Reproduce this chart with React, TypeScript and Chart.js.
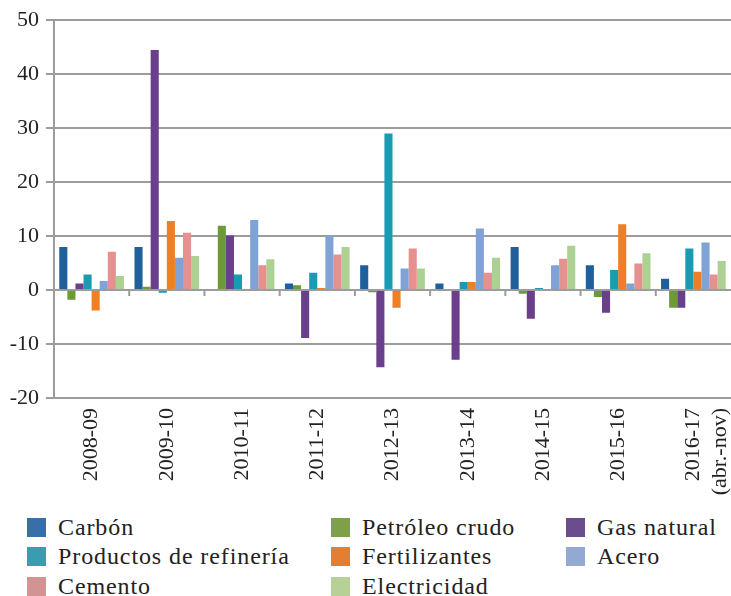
import React, { useEffect, useRef } from 'react';
import { Chart, registerables } from 'chart.js';

Chart.register(...registerables);

const categories: (string | string[])[] = [
  '2008-09', '2009-10', '2010-11', '2011-12', '2012-13', '2013-14', '2014-15', '2015-16',
  ['2016-17', '(abr.-nov)'],
];
const carbon = [8.0, 8.0, 0, 1.2, 4.6, 1.2, 8.0, 4.6, 2.1];
const petroleo = [-1.8, 0.6, 11.9, 0.9, -0.4, 0, -0.7, -1.3, -3.3];
const gasNatural = [1.2, 44.5, 10.1, -8.9, -14.3, -12.9, -5.3, -4.2, -3.3];
const productos = [2.9, -0.5, 2.9, 3.2, 29.0, 1.5, 0.4, 3.7, 7.7];
const fertilizantes = [-3.8, 12.8, 0, 0.4, -3.3, 1.5, 0, 12.2, 3.4];
const acero = [1.7, 6.0, 13.0, 10.1, 4.0, 11.4, 4.6, 1.2, 8.8];
const cemento = [7.1, 10.6, 4.6, 6.6, 7.7, 3.2, 5.8, 4.9, 2.9];
const electricidad = [2.6, 6.3, 5.7, 8.0, 4.0, 6.0, 8.2, 6.8, 5.4];
const yMin = -20;
const yMax = 50;
const yStep = 10;

const seriesNames = [
  'Carbón', 'Petróleo crudo', 'Gas natural', 'Productos de refinería',
  'Fertilizantes', 'Acero', 'Cemento', 'Electricidad',
];
const seriesData = [carbon, petroleo, gasNatural, productos, fertilizantes, acero, cemento, electricidad];
const seriesColors = [
  '#1f5f9c', '#6b9a36', '#6a3f8b', '#1a9bb1',
  '#f07e22', '#7fa3d6', '#e6918f', '#acd193',
];
const legendColors = [
  '#3a6ea8', '#7fa04a', '#6b4c8d', '#3a9cb0',
  '#e27f33', '#92a9d2', '#d29493', '#b6d097',
];

const FONT = '"Liberation Serif", "Times New Roman", serif';
const GRID = '#9c9c9c';

const zeroTicks = {
  id: 'zeroTicks',
  beforeDatasetsDraw(chart: any) {
    const x = chart.scales.x;
    const y = chart.scales.y;
    const ctx = chart.ctx;
    const y0 = y.getPixelForValue(0);
    ctx.save();
    ctx.strokeStyle = GRID;
    ctx.lineWidth = 2;
    for (let i = 0; i < categories.length - 1; i++) {
      const px = (x.getPixelForValue(i) + x.getPixelForValue(i + 1)) / 2;
      ctx.beginPath();
      ctx.moveTo(px, y0);
      ctx.lineTo(px, y0 + 6);
      ctx.stroke();
    }
    ctx.restore();
  },
};

export default function App() {
  const ref = useRef<HTMLCanvasElement | null>(null);

  useEffect(() => {
    if (!ref.current) return;
    const chart = new Chart(ref.current, {
      type: 'bar',
      data: {
        labels: categories as any,
        datasets: seriesNames.map((name, i) => ({
          label: name,
          data: seriesData[i],
          backgroundColor: seriesColors[i],
          borderWidth: 0,
          categoryPercentage: 0.86,
          barPercentage: 1.0,
        })),
      },
      options: {
        responsive: false,
        animation: false,
        layout: { padding: { top: 19, left: 0, right: 0, bottom: 0 } },
        plugins: {
          legend: { display: false },
          tooltip: { enabled: false },
        },
        scales: {
          x: {
            grid: { display: false, drawTicks: false },
            border: { display: false },
            ticks: {
              autoSkip: false,
              minRotation: 90,
              maxRotation: 90,
              padding: 10,
              color: '#222',
              font: { family: FONT, size: 22 },
            },
            afterFit(scale: any) {
              scale.height = 505 - 398;
              scale.paddingLeft = 0;
              scale.paddingRight = 0;
            },
          },
          y: {
            min: yMin,
            max: yMax,
            ticks: {
              stepSize: yStep,
              padding: 7,
              color: '#222',
              font: { family: FONT, size: 22 },
            },
            grid: { color: GRID, lineWidth: 2, tickLength: 8 },
            border: { display: true, color: GRID, width: 2 },
            afterFit(scale: any) {
              scale.width = 54;
            },
          },
        },
      },
      plugins: [zeroTicks],
    });
    return () => chart.destroy();
  }, []);

  return (
    <div style={{ position: 'absolute', left: 0, top: 0, width: 731, height: 596, background: '#fff' }}>
      <canvas ref={ref} width={731} height={505} style={{ display: 'block', width: 731, height: 505 }} />
      <div
        style={{
          position: 'absolute',
          left: 27,
          top: 513,
          display: 'grid',
          gridTemplateColumns: '304px 235px 160px',
          gridAutoRows: '29.3px',
          fontFamily: FONT,
          fontSize: 24,
          letterSpacing: '0.9px',
          lineHeight: '29px',
          color: '#222',
        }}
      >
        {seriesNames.map((name, i) => (
          <div key={name} style={{ display: 'flex', alignItems: 'center', whiteSpace: 'nowrap' }}>
            <span style={{ display: 'inline-block', width: 19, height: 19, background: legendColors[i], marginRight: 12, flex: 'none' }} />
            <span style={{ position: 'relative', top: 0 }}>{name}</span>
          </div>
        ))}
      </div>
    </div>
  );
}
